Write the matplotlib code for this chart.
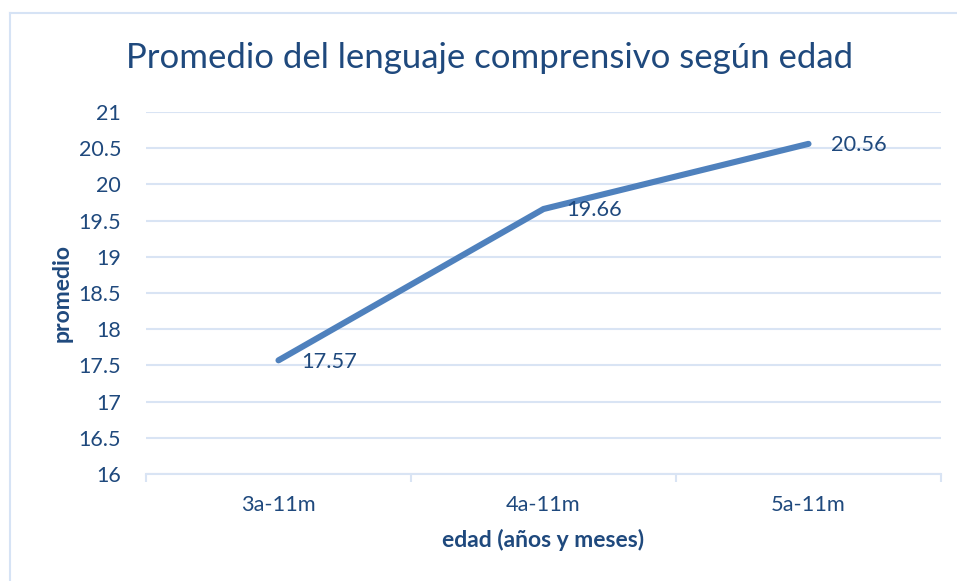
import matplotlib
matplotlib.use("Agg")
import matplotlib.pyplot as plt
from matplotlib.lines import Line2D

categories = ["3a-11m", "4a-11m", "5a-11m"]
values = [17.57, 19.66, 20.56]
yticks = [16, 16.5, 17, 17.5, 18, 18.5, 19, 19.5, 20, 20.5, 21]
ytick_labels = ["16", "16.5", "17", "17.5", "18", "18.5", "19", "19.5", "20", "20.5", "21"]

plt.rcParams['font.family'] = ['Lato', 'DejaVu Sans']
text_c = "#1F497D"
grid_c = "#D9E4F4"
line_c = "#4F81BD"

W, H = 957, 581
fig = plt.figure(figsize=(W/100, H/100), dpi=100)
ax = fig.add_axes([146/W, 1-474/H, (941-146)/W, (474-112)/H])

x = list(range(len(categories)))
ax.plot(x, values, color=line_c, lw=4.4, solid_capstyle='round', solid_joinstyle='round', zorder=3)
for xi, v in zip(x, values):
    ax.annotate(f"{v:.2f}", (xi, v), xytext=(16, -1), textcoords='offset points',
                ha='left', va='center', fontsize=15.7, color=text_c)

ax.set_xlim(-0.5, len(categories) - 0.5)
ax.set_ylim(16, 21)
ax.set_yticks(yticks)
ax.set_yticklabels(ytick_labels)
ax.set_xticks(x)
ax.set_xticklabels(categories)
ax.set_xticks([i - 0.5 for i in range(len(categories) + 1)], minor=True)
ax.tick_params(axis='x', which='major', length=0, pad=15, labelsize=15.7, labelcolor=text_c)
ax.tick_params(axis='x', which='minor', length=6, width=1.5, color=grid_c)
ax.tick_params(axis='y', length=0, pad=18, labelsize=15.5, labelcolor=text_c)
ax.grid(axis='y', color=grid_c, lw=1.5)
ax.set_axisbelow(True)
for s in ['top', 'right', 'left']:
    ax.spines[s].set_visible(False)
ax.spines['bottom'].set_color(grid_c)
ax.spines['bottom'].set_linewidth(1.5)

ax.set_ylabel("promedio", fontsize=16.5, fontweight='bold', color=text_c, labelpad=4)
ax.set_xlabel("edad (años y meses)", fontsize=16.5, fontweight='bold', color=text_c, labelpad=10)

fig.text(490/W, 1-58/H, "Promedio del lenguaje comprensivo según edad", ha='center', va='center',
         fontsize=25, color=text_c)

# chart border (top and left visible)
fig.add_artist(Line2D([10/W, 10/W], [0, 1-13/H], transform=fig.transFigure, color="#D6E3F5", lw=1.5))
fig.add_artist(Line2D([10/W, 1], [1-13/H, 1-13/H], transform=fig.transFigure, color="#D6E3F5", lw=1.5))

fig.savefig("out.png", dpi=100)
